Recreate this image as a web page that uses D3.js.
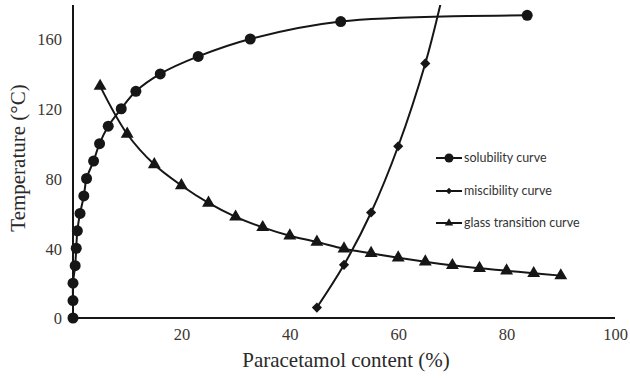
<!DOCTYPE html>
<html>
<head>
<meta charset="utf-8">
<script src="https://cdn.jsdelivr.net/npm/d3@7"></script>
<style>
  html, body { margin: 0; padding: 0; background: #fff; }
  svg { display: block; }
</style>
</head>
<body>
<svg id="chart" width="630" height="379"></svg>
<script>
// ---- Data ----
const solubilityX = [0, 0, 0, 0.4, 0.6, 0.8, 1.3, 2.0, 2.5, 3.8, 4.9, 6.5, 8.9, 11.6, 16.1, 23.1, 32.7, 49.4, 83.8];
const solubilityY = [0, 10, 20, 30, 40, 50, 60, 70, 80, 90, 100, 110, 120, 130, 140, 150, 160, 170, 173.6];

const miscibilityX = [45, 50, 55, 60, 65];
const miscibilityY = [6, 30.5, 60.5, 98.5, 146];
// line continues past the last marker up to the top of the plot
const miscibilityLineEndX = [67.8];
const miscibilityLineEndY = [180];

const glassX = [5, 10, 15, 20, 25, 30, 35, 40, 45, 50, 55, 60, 65, 70, 75, 80, 85, 90];
const glassY = [133, 105.5, 88, 76, 66, 58, 52, 47.2, 43.6, 39.7, 37.1, 34.6, 32.3, 30.2, 28.5, 27.1, 25.6, 24.3];

const xTicks = [20, 40, 60, 80, 100];
const yTicks = [0, 40, 80, 120, 160];
const seriesNames = ["solubility curve", "miscibility curve", "glass transition curve"];
const xTitle = "Paracetamol content (%)";
const yTitle = "Temperature (°C)";

// ---- Chart ----
const svg = d3.select("#chart");
const x = d3.scaleLinear().domain([0, 100]).range([73, 615]);
const y = d3.scaleLinear().domain([0, 179.5]).range([318, 5]);
const ink = "#161616";
const serif = "'Liberation Serif', 'Times New Roman', serif";

const zip = (xs, ys) => xs.map((v, i) => [v, ys[i]]);
const solubility = zip(solubilityX, solubilityY);
const miscibility = zip(miscibilityX, miscibilityY);
const glass = zip(glassX, glassY);

svg.append("defs").append("clipPath").attr("id", "plotclip")
  .append("rect").attr("x", 60).attr("y", y(179.5)).attr("width", 570).attr("height", 330);

const line = d3.line().x(d => x(d[0])).y(d => y(d[1])).curve(d3.curveCatmullRom.alpha(0.5));

const g = svg.append("g").attr("clip-path", "url(#plotclip)");

g.append("path").datum(solubility).attr("d", line)
  .attr("fill", "none").attr("stroke", ink).attr("stroke-width", 2);
g.append("path").datum(miscibility.concat(zip(miscibilityLineEndX, miscibilityLineEndY))).attr("d", line)
  .attr("fill", "none").attr("stroke", ink).attr("stroke-width", 2);
g.append("path").datum(glass).attr("d", line)
  .attr("fill", "none").attr("stroke", ink).attr("stroke-width", 2);

// axes (lines only, no tick marks)
const xAxis = d3.axisBottom(x).tickValues(xTicks).tickSize(0).tickPadding(0).tickFormat(d3.format("d"));
const yAxis = d3.axisLeft(y).tickValues(yTicks).tickSize(0).tickPadding(0).tickFormat(d3.format("d"));

const gx = svg.append("g").attr("transform", `translate(0,${y(0)})`).call(xAxis)
  .attr("font-family", serif).attr("font-size", 16.5);
gx.select(".domain").attr("d", `M${x(0)},0H${x(100)}`).attr("stroke", ink).attr("stroke-width", 2);
gx.selectAll(".tick text").attr("dy", 0).attr("y", 22).attr("fill", "#3a3530");

const gy = svg.append("g").attr("transform", `translate(${x(0)},0)`).call(yAxis)
  .attr("font-family", serif).attr("font-size", 16.5);
gy.select(".domain").attr("d", `M0,${y(0)}V${y(179.5)}`).attr("stroke", ink).attr("stroke-width", 2);
gy.selectAll(".tick text").attr("x", -11).attr("dy", "0.35em").attr("fill", "#3a3530");

// markers
const circleR = 5.5;
svg.append("g").selectAll("circle").data(solubility).join("circle")
  .attr("cx", d => x(d[0])).attr("cy", d => y(d[1])).attr("r", circleR).attr("fill", ink);

svg.append("g").selectAll("path").data(miscibility).join("path")
  .attr("transform", d => `translate(${x(d[0])},${y(d[1])}) rotate(45)`)
  .attr("d", d3.symbol().type(d3.symbolSquare).size(52)).attr("fill", ink);

const tri = d3.symbol().type(d3.symbolTriangle).size(72);
svg.append("g").selectAll("path").data(glass).join("path")
  .attr("transform", d => `translate(${x(d[0])},${y(d[1])})`)
  .attr("d", tri).attr("fill", ink);

// axis titles
svg.append("text").attr("x", 346).attr("y", 367).attr("text-anchor", "middle")
  .style("font-family", serif).attr("font-size", 21).attr("fill", "#2a2a2a")
  .text(xTitle);
svg.append("text").attr("transform", "translate(25,158) rotate(-90)").attr("text-anchor", "middle")
  .style("font-family", serif).attr("font-size", 21).attr("fill", "#2a2a2a")
  .text(yTitle);

// legend
const legendY = [158, 191, 223];
const leg = svg.append("g");
seriesNames.forEach((name, i) => {
  const ly = legendY[i];
  leg.append("line").attr("x1", 436).attr("x2", 462).attr("y1", ly).attr("y2", ly)
    .attr("stroke", ink).attr("stroke-width", 2);
  if (i === 0) leg.append("circle").attr("cx", 449).attr("cy", ly).attr("r", 4.5).attr("fill", ink);
  if (i === 1) leg.append("path").attr("transform", `translate(449,${ly}) rotate(45)`)
    .attr("d", d3.symbol().type(d3.symbolSquare).size(20)).attr("fill", ink);
  if (i === 2) leg.append("path").attr("transform", `translate(449,${ly})`)
    .attr("d", d3.symbol().type(d3.symbolTriangle).size(30)).attr("fill", ink);
  leg.append("text").attr("x", 464).attr("y", ly).attr("dy", "0.35em")
    .attr("font-family", "Lato, 'Open Sans', sans-serif").attr("font-size", 12.5).attr("fill", "#333")
    .text(name);
});
</script>
</body>
</html>
